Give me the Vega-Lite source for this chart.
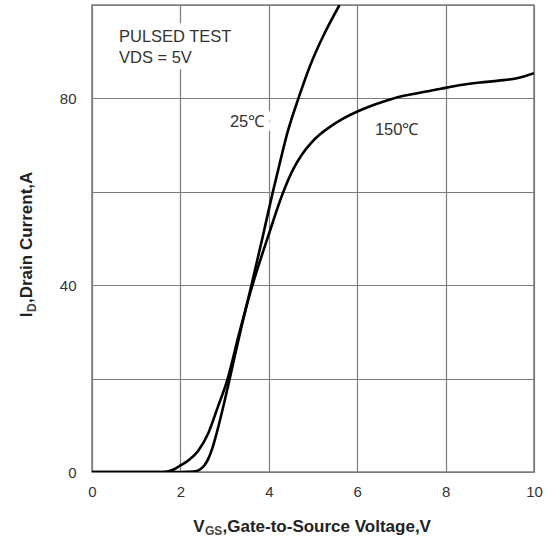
{
  "$schema": "https://vega.github.io/schema/vega-lite/v6.json",
  "width": 442,
  "height": 467,
  "autosize": "none",
  "padding": {"left": 92, "top": 5, "right": 24, "bottom": 65},
  "background": "white",
  "config": {
    "view": {"stroke": "#808080", "strokeWidth": 1.6},
    "font": "Liberation Sans",
    "axis": {"labelFont": "Liberation Sans", "titleFont": "Liberation Sans"}
  },
  "datasets": {
    "curves": [
      {"temp": "25", "vgs": 0, "id": 0},
      {"temp": "25", "vgs": 1, "id": 0},
      {"temp": "25", "vgs": 2.0, "id": 0},
      {"temp": "25", "vgs": 2.3, "id": 0.1},
      {"temp": "25", "vgs": 2.45, "id": 0.6},
      {"temp": "25", "vgs": 2.55, "id": 1.5},
      {"temp": "25", "vgs": 2.63, "id": 2.8},
      {"temp": "25", "vgs": 2.72, "id": 5},
      {"temp": "25", "vgs": 2.82, "id": 8.3},
      {"temp": "25", "vgs": 3.0, "id": 15.2},
      {"temp": "25", "vgs": 3.14, "id": 21},
      {"temp": "25", "vgs": 3.36, "id": 30.2},
      {"temp": "25", "vgs": 3.62, "id": 40.5},
      {"temp": "25", "vgs": 3.86, "id": 50.3},
      {"temp": "25", "vgs": 4.08, "id": 59.5},
      {"temp": "25", "vgs": 4.24, "id": 65.8},
      {"temp": "25", "vgs": 4.42, "id": 72.6},
      {"temp": "25", "vgs": 4.67, "id": 80},
      {"temp": "25", "vgs": 4.93, "id": 86.9},
      {"temp": "25", "vgs": 5.27, "id": 94.1},
      {"temp": "25", "vgs": 5.6, "id": 100},
      {"temp": "150", "vgs": 0, "id": 0},
      {"temp": "150", "vgs": 1, "id": 0},
      {"temp": "150", "vgs": 1.6, "id": 0},
      {"temp": "150", "vgs": 1.75, "id": 0.2},
      {"temp": "150", "vgs": 1.88, "id": 0.7},
      {"temp": "150", "vgs": 2.0, "id": 1.4},
      {"temp": "150", "vgs": 2.2, "id": 2.6},
      {"temp": "150", "vgs": 2.4, "id": 4.5},
      {"temp": "150", "vgs": 2.63, "id": 8.3},
      {"temp": "150", "vgs": 2.85, "id": 14},
      {"temp": "150", "vgs": 3.06, "id": 19.7},
      {"temp": "150", "vgs": 3.33, "id": 29.7},
      {"temp": "150", "vgs": 3.63, "id": 40},
      {"temp": "150", "vgs": 3.99, "id": 50.6},
      {"temp": "150", "vgs": 4.33, "id": 60},
      {"temp": "150", "vgs": 4.55, "id": 64.8},
      {"temp": "150", "vgs": 4.75, "id": 68},
      {"temp": "150", "vgs": 4.97, "id": 70.6},
      {"temp": "150", "vgs": 5.16, "id": 72.3},
      {"temp": "150", "vgs": 5.4, "id": 74},
      {"temp": "150", "vgs": 5.65, "id": 75.5},
      {"temp": "150", "vgs": 6.03, "id": 77.3},
      {"temp": "150", "vgs": 6.4, "id": 78.7},
      {"temp": "150", "vgs": 6.82, "id": 80},
      {"temp": "150", "vgs": 7.3, "id": 81},
      {"temp": "150", "vgs": 7.87, "id": 82},
      {"temp": "150", "vgs": 8.3, "id": 82.8},
      {"temp": "150", "vgs": 8.78, "id": 83.4},
      {"temp": "150", "vgs": 9.2, "id": 83.8},
      {"temp": "150", "vgs": 9.61, "id": 84.3},
      {"temp": "150", "vgs": 10, "id": 85.4}
    ],
    "labels": [
      {"x": 0.61, "y": 92.1, "text": "PULSED TEST"},
      {"x": 0.61, "y": 87.6, "text": "VDS = 5V"},
      {"x": 3.12, "y": 73.9, "text": "25℃"},
      {"x": 6.4, "y": 72.2, "text": "150℃"}
    ]
  },
  "resolve": {"axis": {"x": "independent", "y": "independent"}},
  "layer": [
    {
      "data": {"name": "labels"},
      "mark": {"type": "text", "align": "left", "baseline": "alphabetic", "fontSize": 16.5, "fill": "white", "stroke": "white", "strokeWidth": 14, "strokeJoin": "round"},
      "encoding": {
        "x": {"field": "x", "type": "quantitative", "scale": {"domain": [0, 10], "nice": false},
          "axis": {"orient": "bottom", "domain": false, "ticks": false, "labels": false, "grid": false,
            "title": "V", "titleX": 100.7, "titleY": 59, "titleAlign": "left", "titleBaseline": "alphabetic",
            "titleFontSize": 17, "titleFontWeight": "bold", "titleColor": "#222222"}},
        "y": {"field": "y", "type": "quantitative", "scale": {"domain": [0, 100], "nice": false},
          "axis": {"orient": "left", "domain": false, "ticks": false, "labels": false, "grid": false,
            "title": "I", "titleX": -60.5, "titleY": 311.7, "titleAngle": -90, "titleAlign": "left", "titleBaseline": "alphabetic",
            "titleFontSize": 17, "titleFontWeight": "bold", "titleColor": "#222222"}},
        "text": {"field": "text"}
      }
    },
    {
      "data": {"name": "labels"},
      "mark": {"type": "text", "align": "left", "baseline": "alphabetic", "fontSize": 16.5, "color": "#333333"},
      "encoding": {
        "x": {"field": "x", "type": "quantitative", "scale": {"domain": [0, 10], "nice": false},
          "axis": {"orient": "bottom", "domain": false, "ticks": false, "labels": false, "grid": false,
            "title": "GS", "titleX": 112.5, "titleY": 62.5, "titleAlign": "left", "titleBaseline": "alphabetic",
            "titleFontSize": 12, "titleFontWeight": "bold", "titleColor": "#444444"}},
        "y": {"field": "y", "type": "quantitative", "scale": {"domain": [0, 100], "nice": false},
          "axis": {"orient": "left", "domain": false, "ticks": false, "labels": false, "grid": false,
            "title": "D", "titleX": -57, "titleY": 306.5, "titleAngle": -90, "titleAlign": "left", "titleBaseline": "alphabetic",
            "titleFontSize": 12, "titleFontWeight": "bold", "titleColor": "#444444"}},
        "text": {"field": "text"}
      }
    },
    {
      "data": {"name": "curves"},
      "mark": {"type": "line", "interpolate": "monotone", "color": "black", "strokeWidth": 2.6, "clip": true},
      "encoding": {
        "x": {"field": "vgs", "type": "quantitative", "scale": {"domain": [0, 10], "nice": false},
          "axis": {"orient": "bottom", "values": [0, 2, 4, 6, 8, 10], "grid": true, "gridColor": "#7c7c7c", "gridWidth": 1.2, "gridOpacity": 1,
            "domain": false, "ticks": false, "labelPadding": 12, "labelFontSize": 15, "labelColor": "#333333", "labelFlush": false,
            "title": ",Gate-to-Source Voltage,V", "titleX": 130, "titleY": 59, "titleAlign": "left", "titleBaseline": "alphabetic",
            "titleFontSize": 17, "titleFontWeight": "bold", "titleColor": "#222222"}},
        "y": {"field": "id", "type": "quantitative", "scale": {"domain": [0, 100], "nice": false},
          "axis": {"orient": "left", "values": [0, 20, 40, 60, 80, 100], "grid": true, "gridColor": "#7c7c7c", "gridWidth": 1.2, "gridOpacity": 1,
            "domain": false, "ticks": false, "labelPadding": 16, "labelFontSize": 15, "labelColor": "#333333", "labelFlush": false,
            "labelExpr": "datum.value == 0 || datum.value == 40 || datum.value == 80 ? datum.label : ''",
            "title": ",Drain Current,A", "titleX": -60.5, "titleY": 297.5, "titleAngle": -90, "titleAlign": "left", "titleBaseline": "alphabetic",
            "titleFontSize": 17, "titleFontWeight": "bold", "titleColor": "#222222"}},
        "detail": {"field": "temp", "type": "nominal"}
      }
    }
  ]
}
